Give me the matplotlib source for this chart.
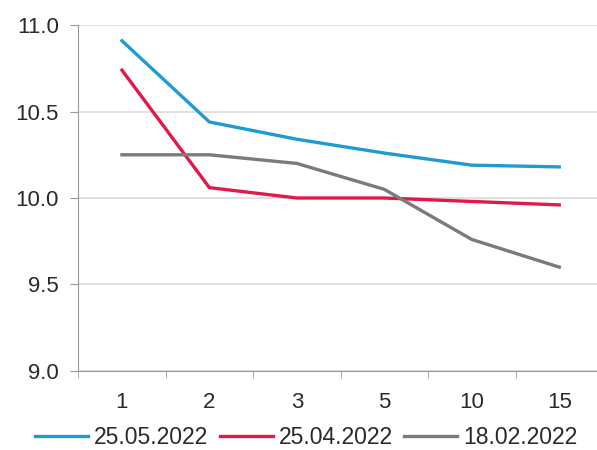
import numpy as np
import matplotlib.pyplot as plt

plt.rcParams['font.family'] = ['Liberation Sans', 'DejaVu Sans']

terms = ["1", "2", "3", "5", "10", "15"]
may_25 = [10.91, 10.44, 10.34, 10.26, 10.19, 10.18]
apr_25 = [10.74, 10.06, 10.00, 10.00, 9.98, 9.96]
feb_18 = [10.25, 10.25, 10.20, 10.05, 9.76, 9.60]
y_ticks = [9.0, 9.5, 10.0, 10.5, 11.0]

fig = plt.figure(figsize=(5.97, 4.5), dpi=100)
ax = fig.add_axes([0.131, 0.176, 0.879, 0.768])

x = np.arange(len(terms))
ax.plot(x, may_25, color="#1f9bd2", linewidth=2.4, label="25.05.2022")
ax.plot(x, apr_25, color="#e0194b", linewidth=2.4, label="25.04.2022")
ax.plot(x, feb_18, color="#7b7b7b", linewidth=2.4, label="18.02.2022")

ax.set_ylim(9.0, 11.0)
ax.set_yticks(y_ticks)
ax.set_yticklabels(["%.1f" % v for v in y_ticks])
ax.set_xlim(-0.5, 5.5)
ax.set_xticks(x)
ax.set_xticklabels(terms)
ax.set_xticks(np.arange(-0.5, 6, 1.0), minor=True)
ax.tick_params(axis="x", which="major", length=0, pad=15, labelsize=16, colors="#2a2a2a")
ax.tick_params(axis="x", which="minor", length=5, color="#999999")
ax.tick_params(axis="y", length=6, color="#999999", labelsize=16, colors="#2a2a2a", pad=8)

ax.grid(axis="y", color="#dddddd", linewidth=1.3)
ax.set_axisbelow(True)
for side in ["top", "right"]:
    ax.spines[side].set_visible(False)
ax.spines["left"].set_color("#999999")
ax.spines["bottom"].set_color("#999999")

fig.legend(loc="center", bbox_to_anchor=(0.513, 0.028), ncol=3, frameon=False,
           fontsize=16.5, handlelength=2.3, handletextpad=0.26, columnspacing=0.5,
           labelcolor="#2a2a2a")

fig.savefig("out.png", dpi=100)
